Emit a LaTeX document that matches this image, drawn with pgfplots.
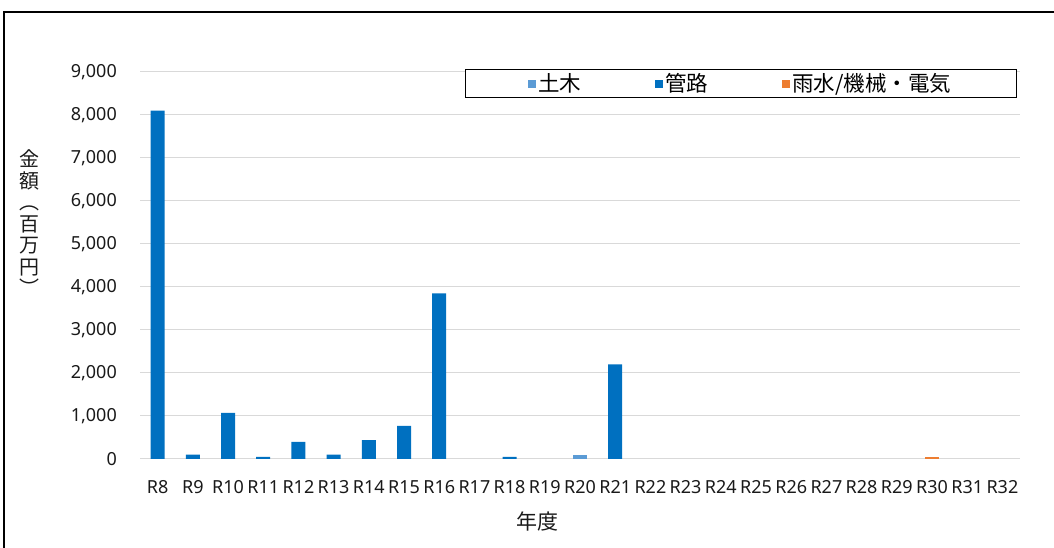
\documentclass[border=0pt]{standalone}
\usepackage{pgfplots}
\pgfplotsset{compat=1.18}
\usepackage{graphicx}
\usepackage{fontspec}
\setmainfont{Noto Sans}
\newfontfamily\cjk{Noto Sans CJK JP}
\definecolor{doboku}{HTML}{5B9BD5}
\definecolor{kanro}{HTML}{0070C0}
\definecolor{usui}{HTML}{ED7D31}
\definecolor{gridgray}{HTML}{D9D9D9}
\begin{document}
\begin{tikzpicture}
\useasboundingbox (0,0) rectangle (1054pt,548pt);
\draw[line width=1.6pt, black] (4pt,-2pt) -- (4pt,536pt) -- (1060pt,536pt);
\begin{axis}[
  at={(140pt,89pt)}, anchor=south west,
  scale only axis, width=880pt, height=387pt,
  ybar stacked, bar width=14pt,
  xmin=-0.5, xmax=24.5, ymin=0, ymax=9000,
  xtick={0,...,24},
  xticklabels={R8,R9,R10,R11,R12,R13,R14,R15,R16,R17,R18,R19,R20,R21,R22,R23,R24,R25,R26,R27,R28,R29,R30,R31,R32},
  ytick={0,1000,...,9000},
  ymajorgrids, grid style={draw=gridgray, line width=1pt},
  axis line style={draw=none},
  major tick length=0pt,
  tick label style={font=\fontsize{18}{20}\selectfont, text=black!90, inner sep=0pt},
  yticklabel style={xshift=-23pt},
  xticklabel style={yshift=-21pt},
  /pgf/number format/assume math mode=true,
  /pgf/number format/1000 sep={,},
  legend columns=3,
  legend cell align=left,
  legend image code/.code={\fill[#1, draw=none] (0pt,-4pt) rectangle (8pt,4pt);},
  legend style={at={(0.99659,1.00775)}, anchor=north east, draw=black, line width=1.5pt,
    inner xsep=63pt, inner ysep=2pt, font=\cjk\fontsize{21.5}{23}\selectfont,
    /tikz/every even column/.append style={column sep=72pt}},
]
\addplot[fill=doboku, draw=none] coordinates {
(0,0) (1,0) (2,0) (3,0) (4,0) (5,0) (6,0) (7,0) (8,0) (9,0) (10,0) (11,0) (12,100)
(13,0) (14,0) (15,0) (16,0) (17,0) (18,0) (19,0) (20,0) (21,0) (22,0) (23,0) (24,0)};
\addlegendentry{土木}
\addplot[fill=kanro, draw=none] coordinates {
(0,8100) (1,100) (2,1070) (3,50) (4,400) (5,100) (6,440) (7,770) (8,3850) (9,0) (10,50) (11,0) (12,0)
(13,2200) (14,0) (15,0) (16,0) (17,0) (18,0) (19,0) (20,0) (21,0) (22,0) (23,0) (24,0)};
\addlegendentry{管路}
\addplot[fill=usui, draw=none] coordinates {
(0,0) (1,0) (2,0) (3,0) (4,0) (5,0) (6,0) (7,0) (8,0) (9,0) (10,0) (11,0) (12,0)
(13,0) (14,0) (15,0) (16,0) (17,0) (18,0) (19,0) (20,0) (21,0) (22,40) (23,0) (24,0)};
\addlegendentry{雨水/機械・電気}
\end{axis}
\node[font=\cjk\fontsize{20}{21.5}\selectfont, align=center, text=black!90] at (29pt,325pt)
  {金\\額\\︵\\百\\万\\円\\︶};
\node[font=\cjk\fontsize{21}{22}\selectfont, text=black!90] at (537pt,26pt) {年度};
\end{tikzpicture}
\end{document}
